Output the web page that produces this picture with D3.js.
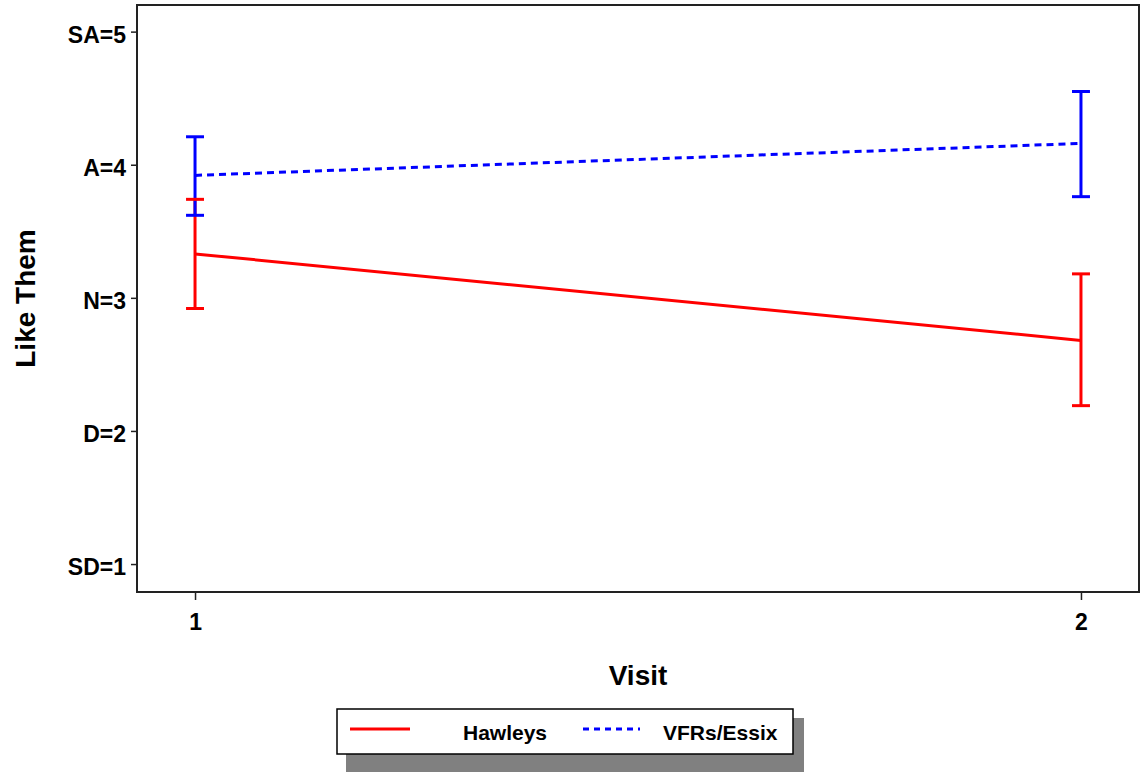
<!DOCTYPE html>
<html>
<head>
<meta charset="utf-8">
<script src="https://cdn.jsdelivr.net/npm/d3@7"></script>
<style>
  html, body { margin: 0; padding: 0; background: #fff; }
  text { font-family: "Liberation Sans", Arial, sans-serif; font-weight: bold; fill: #000; }
</style>
</head>
<body>
<svg id="chart" width="1144" height="772"></svg>
<script>
// ---- data ----
const visits = [1, 2];
const yTickValues = [1, 2, 3, 4, 5];
const yTickLabels = ["SD=1", "D=2", "N=3", "A=4", "SA=5"];
const seriesNames = ["Hawleys", "VFRs/Essix"];
const hawleysMean = [3.33, 2.68];
const hawleysLow  = [2.92, 2.19];
const hawleysHigh = [3.74, 3.18];
const vfrsMean = [3.92, 4.16];
const vfrsLow  = [3.62, 3.76];
const vfrsHigh = [4.21, 4.55];

const svg = d3.select("#chart");
const pLeft = 137, pRight = 1139, pTop = 5, pBottom = 592;

const x = d3.scaleLinear().domain([0.9345, 2.0655]).range([pLeft, pRight]);
const y = d3.scaleLinear().domain([0.79, 5.2]).range([pBottom, pTop]);

// frame
svg.append("rect").attr("x", pLeft).attr("y", pTop)
  .attr("width", pRight - pLeft).attr("height", pBottom - pTop)
  .attr("fill", "none").attr("stroke", "#222").attr("stroke-width", 2);

// y axis
const yAxis = d3.axisLeft(y).tickValues(yTickValues)
  .tickFormat((d, i) => yTickLabels[i]).tickSize(6).tickPadding(5);
const gy = svg.append("g").attr("transform", `translate(${pLeft},0)`).call(yAxis);
gy.select(".domain").remove();
gy.selectAll(".tick line").attr("stroke", "#222").attr("stroke-width", 1.5);
gy.selectAll(".tick text").style("font-size", "23px").attr("dy", "0.46em")
  .style("font-family", "'Liberation Sans', Arial, sans-serif").style("font-weight", "bold");

// x axis
const xAxis = d3.axisBottom(x).tickValues(visits).tickFormat(d3.format("d")).tickSize(8).tickPadding(14);
const gx = svg.append("g").attr("transform", `translate(0,${pBottom})`).call(xAxis);
gx.select(".domain").remove();
gx.selectAll(".tick line").attr("stroke", "#222").attr("stroke-width", 1.5);
gx.selectAll(".tick text").style("font-size", "23px")
  .style("font-family", "'Liberation Sans', Arial, sans-serif").style("font-weight", "bold");

// axis titles
svg.append("text").attr("x", (pLeft + pRight) / 2).attr("y", 685)
  .attr("text-anchor", "middle").style("font-size", "28px").text("Visit");
svg.append("text").attr("transform", `translate(35,${(pTop + pBottom) / 2}) rotate(-90)`)
  .attr("text-anchor", "middle").style("font-size", "28px").text("Like Them");

const plot = svg.append("g");
const line = d3.line().x((d, i) => x(visits[i])).y(d => y(d));

// mean lines
plot.append("path").datum(vfrsMean).attr("d", line)
  .attr("fill", "none").attr("stroke", "#0000ff").attr("stroke-width", 3)
  .attr("stroke-dasharray", "7,5");
plot.append("path").datum(hawleysMean).attr("d", line)
  .attr("fill", "none").attr("stroke", "#ff0000").attr("stroke-width", 3);

const capW = 9;
function verticals(low, high, color) {
  plot.selectAll(null).data(visits).enter().append("line")
    .attr("x1", d => x(d)).attr("x2", d => x(d))
    .attr("y1", (d, i) => y(low[i])).attr("y2", (d, i) => y(high[i]))
    .attr("stroke", color).attr("stroke-width", 3);
}
function caps(low, high, color) {
  [low, high].forEach(arr => {
    plot.selectAll(null).data(visits).enter().append("line")
      .attr("x1", d => x(d) - capW).attr("x2", d => x(d) + capW)
      .attr("y1", (d, i) => y(arr[i])).attr("y2", (d, i) => y(arr[i]))
      .attr("stroke", color).attr("stroke-width", 3);
  });
}
verticals(hawleysLow, hawleysHigh, "#ff0000");
verticals(vfrsLow, vfrsHigh, "#0000ff");
caps(vfrsLow, vfrsHigh, "#0000ff");
caps(hawleysLow, hawleysHigh, "#ff0000");

// legend
const lg = svg.append("g");
lg.append("rect").attr("x", 346).attr("y", 718).attr("width", 458).attr("height", 60).attr("fill", "#808080");
lg.append("rect").attr("x", 337).attr("y", 709).attr("width", 456).attr("height", 45)
  .attr("fill", "#fff").attr("stroke", "#000").attr("stroke-width", 1.5);
lg.append("line").attr("x1", 350).attr("x2", 410).attr("y1", 729).attr("y2", 729)
  .attr("stroke", "#ff0000").attr("stroke-width", 3);
lg.append("text").attr("x", 463).attr("y", 740).style("font-size", "21px").text(seriesNames[0]);
lg.append("line").attr("x1", 583).attr("x2", 640).attr("y1", 729).attr("y2", 729)
  .attr("stroke", "#0000ff").attr("stroke-width", 3).attr("stroke-dasharray", "6,5");
lg.append("text").attr("x", 663).attr("y", 740).style("font-size", "21px").text(seriesNames[1]);
</script>
</body>
</html>
